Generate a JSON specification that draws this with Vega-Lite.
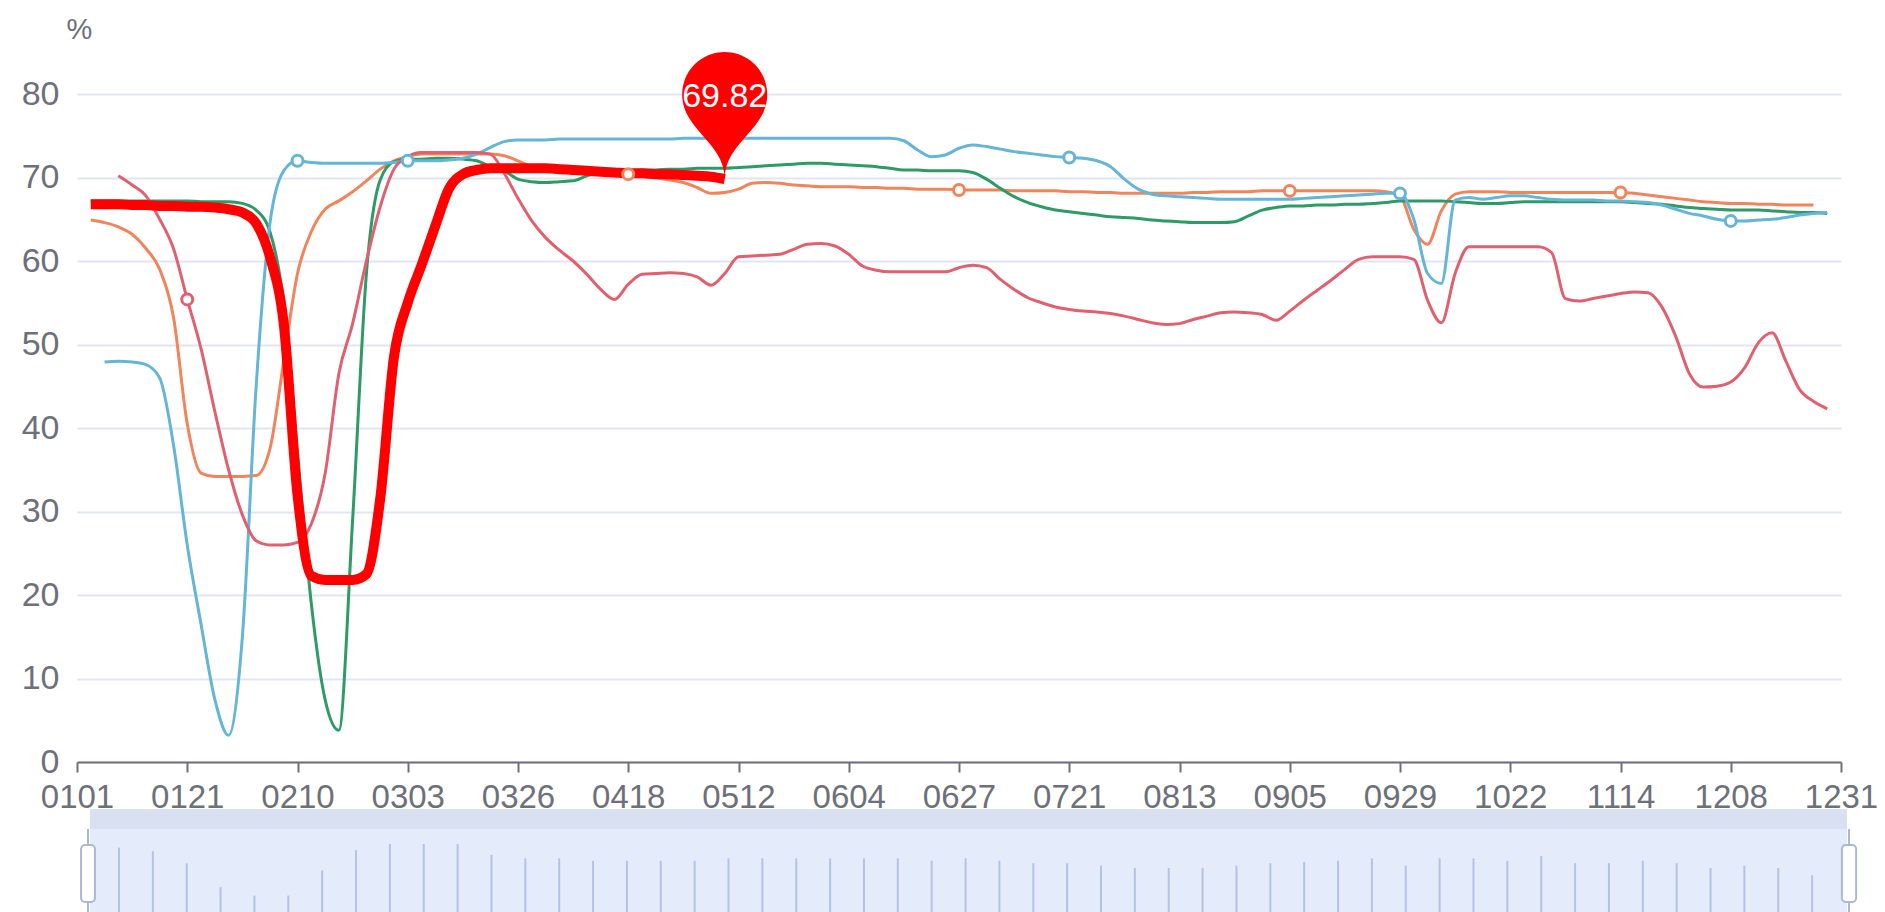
{
"$schema":"https://vega.github.io/schema/vega-lite/v6.json",
"autosize":{"type":"pad"},
"padding":{"left":21,"top":15,"right":0,"bottom":0},
"background":"white",
"config":{"view":{"stroke":null},"font":"Liberation Sans"},
"bounds":"flush",
"spacing":47,
"datasets":{
"main":[
{"d":"0101"},
{"d":"0104","o":64.9,"g":67.2,"r":66.8},
{"d":"0106","b":47.9,"o":64.6,"g":67.2,"r":66.8},
{"d":"0109","b":48,"o":64.1,"g":67.2,"p":70.2,"r":66.8},
{"d":"0111","b":47.9,"o":63.2,"g":67.2,"p":69.1,"r":66.7},
{"d":"0114","b":47.6,"o":61.5,"g":67.2,"p":67.8,"r":66.7},
{"d":"0116","b":46,"o":59,"g":67.2,"p":65,"r":66.6},
{"d":"0119","b":38,"o":53.3,"g":67.2,"p":61.5,"r":66.6},
{"d":"0121","b":26,"o":40.5,"g":67.2,"p":55.4,"r":66.5},
{"d":"0124","b":16.5,"o":34.6,"g":67.1,"p":49.5,"r":66.5},
{"d":"0126","b":7.5,"o":34.2,"g":67.1,"p":42,"r":66.4},
{"d":"0129","b":3.2,"o":34.2,"g":67.1,"p":35,"r":66.2},
{"d":"0131","b":15,"o":34.2,"g":66.9,"p":29.6,"r":65.8},
{"d":"0203","b":45,"o":34.3,"g":66.1,"p":26.5,"r":64.5},
{"d":"0205","b":64.5,"o":37.5,"g":63.5,"p":26,"r":60.5},
{"d":"0208","b":70.8,"o":48,"g":55,"p":26,"r":52.5},
{"d":"0210","b":72,"o":58.5,"g":37,"p":26.3,"r":32},
{"d":"0213","b":71.8,"o":63.5,"g":19,"p":28.5,"r":22.3},
{"d":"0215","b":71.7,"o":66.2,"g":7.5,"p":34.5,"r":21.8},
{"d":"0218","b":71.7,"o":67.2,"g":3.8,"p":46.5,"r":21.8},
{"d":"0221","b":71.7,"o":68.3,"g":29,"p":52.5,"r":21.8},
{"d":"0223","b":71.7,"o":69.6,"g":58.5,"p":60,"r":22.5},
{"d":"0226","b":71.7,"o":71,"g":69.7,"p":66.5,"r":31.5},
{"d":"0228","b":71.8,"o":72,"g":71.9,"p":71,"r":48.5},
{"d":"0303","b":72,"o":72.5,"g":72.2,"p":72.5,"r":55},
{"d":"0306","b":72,"o":72.8,"g":72.2,"p":73,"r":59.5},
{"d":"0309","b":72,"o":72.8,"g":72.3,"p":73,"r":64.2},
{"d":"0312","b":72.1,"o":72.8,"g":72.3,"p":73,"r":68.7},
{"d":"0315","b":72.3,"o":72.8,"g":72.2,"p":73,"r":70.4},
{"d":"0317","b":72.8,"o":72.8,"g":72,"p":73,"r":70.9},
{"d":"0320","b":73.6,"o":72.8,"g":71.3,"p":72.8,"r":71.1},
{"d":"0323","b":74.3,"o":72.6,"g":70.8,"p":70.5,"r":71.1},
{"d":"0326","b":74.5,"o":72,"g":69.8,"p":67.5,"r":71.1},
{"d":"0329","b":74.5,"o":71.3,"g":69.5,"p":64.8,"r":71.1},
{"d":"0401","b":74.5,"o":70.9,"g":69.4,"p":62.8,"r":71.1},
{"d":"0404","b":74.6,"o":70.7,"g":69.5,"p":61.3,"r":71},
{"d":"0407","b":74.6,"o":70.6,"g":69.6,"p":60,"r":70.9},
{"d":"0409","b":74.6,"o":70.5,"g":70.2,"p":58.4,"r":70.8},
{"d":"0412","b":74.6,"o":70.5,"g":70.6,"p":56.6,"r":70.7},
{"d":"0415","b":74.6,"o":70.5,"g":70.7,"p":55.4,"r":70.6},
{"d":"0418","b":74.6,"o":70.4,"g":70.8,"p":57.2,"r":70.5},
{"d":"0421","b":74.6,"o":70.3,"g":70.9,"p":58.4,"r":70.5},
{"d":"0424","b":74.6,"o":70,"g":70.9,"p":58.5,"r":70.4},
{"d":"0427","b":74.6,"o":69.7,"g":71,"p":58.6,"r":70.4},
{"d":"0430","b":74.7,"o":69.4,"g":71,"p":58.5,"r":70.3},
{"d":"0503","b":74.7,"o":68.8,"g":71.1,"p":58.1,"r":70.2},
{"d":"0506","b":74.7,"o":68.1,"g":71.1,"p":57.1,"r":70.1},
{"d":"0509","b":74.7,"o":68.2,"g":71.1,"p":58.5,"r":69.82},
{"d":"0512","b":74.7,"o":68.6,"g":71.2,"p":60.5},
{"d":"0515","b":74.7,"o":69.3,"g":71.3,"p":60.6},
{"d":"0518","b":74.7,"o":69.4,"g":71.4,"p":60.7},
{"d":"0521","b":74.7,"o":69.3,"g":71.5,"p":60.8},
{"d":"0524","b":74.7,"o":69.1,"g":71.6,"p":61.4},
{"d":"0526","b":74.7,"o":69,"g":71.7,"p":62},
{"d":"0529","b":74.7,"o":68.9,"g":71.7,"p":62.1},
{"d":"0601","b":74.7,"o":68.9,"g":71.6,"p":61.8},
{"d":"0604","b":74.7,"o":68.9,"g":71.5,"p":60.8},
{"d":"0607","b":74.7,"o":68.8,"g":71.4,"p":59.4},
{"d":"0610","b":74.7,"o":68.8,"g":71.3,"p":58.9},
{"d":"0613","b":74.7,"o":68.7,"g":71.1,"p":58.7},
{"d":"0616","b":74.4,"o":68.7,"g":70.9,"p":58.7},
{"d":"0618","b":73.3,"o":68.6,"g":70.9,"p":58.7},
{"d":"0621","b":72.5,"o":68.6,"g":70.8,"p":58.7},
{"d":"0624","b":72.7,"o":68.6,"g":70.8,"p":58.7},
{"d":"0627","b":73.5,"o":68.5,"g":70.8,"p":59.2},
{"d":"0630","b":73.9,"o":68.5,"g":70.6,"p":59.5},
{"d":"0703","b":73.7,"o":68.5,"g":69.8,"p":59.2},
{"d":"0706","b":73.4,"o":68.5,"g":68.7,"p":57.8},
{"d":"0709","b":73.1,"o":68.4,"g":67.7,"p":56.6},
{"d":"0712","b":72.9,"o":68.4,"g":67,"p":55.6},
{"d":"0715","b":72.7,"o":68.4,"g":66.5,"p":55},
{"d":"0718","b":72.5,"o":68.4,"g":66.1,"p":54.5},
{"d":"0721","b":72.4,"o":68.3,"g":65.9,"p":54.2},
{"d":"0724","b":72.3,"o":68.3,"g":65.7,"p":54},
{"d":"0727","b":72,"o":68.2,"g":65.5,"p":53.9},
{"d":"0730","b":71.3,"o":68.2,"g":65.3,"p":53.7},
{"d":"0802","b":69.8,"o":68.1,"g":65.2,"p":53.4},
{"d":"0804","b":68.6,"o":68.1,"g":65.1,"p":53},
{"d":"0807","b":68,"o":68.1,"g":64.9,"p":52.6},
{"d":"0810","b":67.8,"o":68.1,"g":64.8,"p":52.4},
{"d":"0813","b":67.7,"o":68.1,"g":64.7,"p":52.5},
{"d":"0816","b":67.6,"o":68.2,"g":64.6,"p":53},
{"d":"0819","b":67.5,"o":68.2,"g":64.6,"p":53.4},
{"d":"0822","b":67.4,"o":68.3,"g":64.6,"p":53.8},
{"d":"0825","b":67.4,"o":68.3,"g":64.7,"p":53.9},
{"d":"0827","b":67.4,"o":68.3,"g":65.4,"p":53.8},
{"d":"0830","b":67.4,"o":68.4,"g":66.1,"p":53.6},
{"d":"0902","b":67.4,"o":68.4,"g":66.4,"p":52.9},
{"d":"0905","b":67.4,"o":68.4,"g":66.6,"p":54},
{"d":"0908","b":67.5,"o":68.4,"g":66.6,"p":55.3},
{"d":"0911","b":67.6,"o":68.4,"g":66.7,"p":56.5},
{"d":"0914","b":67.7,"o":68.4,"g":66.7,"p":57.7},
{"d":"0917","b":67.8,"o":68.4,"g":66.8,"p":59},
{"d":"0920","b":67.9,"o":68.4,"g":66.8,"p":60.2},
{"d":"0923","b":68,"o":68.4,"g":66.9,"p":60.5},
{"d":"0926","b":68.1,"o":68.3,"g":67,"p":60.5},
{"d":"0929","b":68.1,"o":67.8,"g":67.2,"p":60.5},
{"d":"1002","b":65,"o":63.8,"g":67.2,"p":60.2},
{"d":"1005","b":58.5,"o":62,"g":67.2,"p":55.3},
{"d":"1008","b":57.3,"o":66,"g":67.2,"p":52.6},
{"d":"1011","b":67.3,"o":68,"g":67.1,"p":58.5},
{"d":"1013","b":67.6,"o":68.3,"g":67,"p":61.7},
{"d":"1016","b":67.4,"o":68.3,"g":66.9,"p":61.7},
{"d":"1019","b":67.6,"o":68.3,"g":66.9,"p":61.7},
{"d":"1022","b":67.8,"o":68.2,"g":67,"p":61.7},
{"d":"1025","b":67.8,"o":68.2,"g":67.1,"p":61.7},
{"d":"1028","b":67.6,"o":68.2,"g":67.1,"p":61.7},
{"d":"1031","b":67.4,"o":68.2,"g":67.1,"p":61},
{"d":"1103","b":67.3,"o":68.2,"g":67.1,"p":55.5},
{"d":"1105","b":67.3,"o":68.2,"g":67.1,"p":55.2},
{"d":"1108","b":67.3,"o":68.2,"g":67.1,"p":55.5},
{"d":"1111","b":67.2,"o":68.2,"g":67.1,"p":55.8},
{"d":"1114","b":67.2,"o":68.2,"g":67.1,"p":56.1},
{"d":"1117","b":67.1,"o":68.1,"g":67,"p":56.3},
{"d":"1120","b":67,"o":67.9,"g":66.9,"p":56.2},
{"d":"1123","b":66.7,"o":67.7,"g":66.8,"p":54.5},
{"d":"1126","b":66.2,"o":67.5,"g":66.6,"p":51},
{"d":"1129","b":65.7,"o":67.3,"g":66.4,"p":46.5},
{"d":"1202","b":65.4,"o":67.1,"g":66.3,"p":44.9},
{"d":"1205","b":65,"o":67,"g":66.2,"p":45},
{"d":"1208","b":64.8,"o":66.9,"g":66.1,"p":45.5},
{"d":"1211","b":64.8,"o":66.9,"g":66.1,"p":47.2},
{"d":"1214","b":64.9,"o":66.8,"g":66.1,"p":50.2},
{"d":"1217","b":65,"o":66.8,"g":66,"p":51.4},
{"d":"1220","b":65.2,"o":66.7,"g":65.9,"p":48},
{"d":"1222","b":65.5,"o":66.7,"g":65.8,"p":44.6},
{"d":"1225","b":65.7,"o":66.7,"g":65.8,"p":43.2},
{"d":"1228","b":65.8,"g":65.7,"p":42.3},
{"d":"1231"}
],
"shadow":[
{"i":1,"v":64.9},{"i":2,"v":61.6},{"i":3,"v":50.7},{"i":4,"v":28.9},{"i":5,"v":21.3},{"i":6,"v":21.3},{"i":7,"v":44.2},{"i":8,"v":62.7},{"i":9,"v":68.2},{"i":10,"v":68.2},
{"i":11,"v":68.2},{"i":12,"v":58.4},{"i":13,"v":55.1},{"i":14,"v":55.1},{"i":15,"v":52.9},{"i":16,"v":52.9},{"i":17,"v":52.9},{"i":18,"v":52.9},{"i":19,"v":55.1},{"i":20,"v":55.1},
{"i":21,"v":55.1},{"i":22,"v":55.1},{"i":23,"v":55.1},{"i":24,"v":55.1},{"i":25,"v":52.9},{"i":26,"v":55.1},{"i":27,"v":52.9},{"i":28,"v":50.7},{"i":29,"v":50.7},{"i":30,"v":48.5},
{"i":31,"v":46.4},{"i":32,"v":46.4},{"i":33,"v":46.4},{"i":34,"v":48.5},{"i":35,"v":50.7},{"i":36,"v":51.8},{"i":37,"v":52.9},{"i":38,"v":55.1},{"i":39,"v":48.5},{"i":40,"v":55.1},
{"i":41,"v":55.1},{"i":42,"v":52.9},{"i":43,"v":57.3},{"i":44,"v":50.7},{"i":45,"v":50.7},{"i":46,"v":52.9},{"i":47,"v":50.7},{"i":48,"v":46.4},{"i":49,"v":48.5},{"i":50,"v":46.4},
{"i":51,"v":39.8}
]
},
"vconcat":[
{
"width":1764,"height":668,
"data":{"name":"main"},
"transform":[{"fold":["b","o","g","p","r"],"as":["s","v"]},{"filter":"isValid(datum.v)"}],
"encoding":{
"x":{"field":"d","type":"ordinal","sort":"ascending",
 "scale":{"type":"point","padding":0,"domain":["0101","0104","0106","0109","0111","0114","0116","0119","0121","0124","0126","0129","0131","0203","0205","0208","0210","0213","0215","0218","0221","0223","0226","0228","0303","0306","0309","0312","0315","0317","0320","0323","0326","0329","0401","0404","0407","0409","0412","0415","0418","0421","0424","0427","0430","0503","0506","0509","0512","0515","0518","0521","0524","0526","0529","0601","0604","0607","0610","0613","0616","0618","0621","0624","0627","0630","0703","0706","0709","0712","0715","0718","0721","0724","0727","0730","0802","0804","0807","0810","0813","0816","0819","0822","0825","0827","0830","0902","0905","0908","0911","0914","0917","0920","0923","0926","0929","1002","1005","1008","1011","1013","1016","1019","1022","1025","1028","1031","1103","1105","1108","1111","1114","1117","1120","1123","1126","1129","1202","1205","1208","1211","1214","1217","1220","1222","1225","1228","1231"]},
 "axis":{"values":["0101","0121","0210","0303","0326","0418","0512","0604","0627","0721","0813","0905","0929","1022","1114","1208","1231"],
  "title":null,"labelAngle":0,"labelFontSize":33,"labelColor":"#6e7079","labelFont":"Liberation Sans","tickColor":"#6e7079","domainColor":"#6e7079","domainWidth":2,"tickWidth":2,"tickSize":10,"labelPadding":9,"grid":false,"labelOverlap":false,"labelFlush":false}},
"y":{"field":"v","type":"quantitative","scale":{"domain":[0,80],"nice":false},
 "axis":{"values":[0,10,20,30,40,50,60,70,80],"title":"%","titleAngle":0,"titleX":2,"titleY":-65,"titleAlign":"center","titleBaseline":"middle","titleFontSize":29,"titleFontWeight":"normal","titleColor":"#6e7079","titleFont":"Liberation Sans","labelFontSize":34,"labelColor":"#6e7079","labelFont":"Liberation Sans","domain":false,"ticks":false,"labelPadding":18,"gridColor":"#e0e6f1","gridWidth":2}}
},
"layer":[
{"transform":[{"filter":"datum.s != 'r'"}],
 "mark":{"type":"line","interpolate":"monotone","strokeWidth":3},
 "encoding":{"color":{"field":"s","type":"nominal","scale":{"domain":["b","o","g","p"],"range":["#64b5d6","#f0845a","#2e9a66","#e1606f"]},"legend":null}}},
{"transform":[{"filter":"datum.s == 'r'"}],
 "mark":{"type":"line","interpolate":"monotone","strokeWidth":10,"color":"#ff0000"}},
{"transform":[{"filter":"(datum.s=='b' && indexof(['0210','0303','0721','0929','1208'], datum.d) >= 0) || (datum.s=='o' && indexof(['0418','0627','0905','1114'], datum.d) >= 0) || (datum.s=='p' && datum.d=='0121')"}],
 "mark":{"type":"point","shape":"circle","size":120,"filled":true,"fill":"white","strokeWidth":3,"opacity":1},
 "encoding":{"stroke":{"field":"s","type":"nominal","scale":{"domain":["b","o","g","p"],"range":["#64b5d6","#f0845a","#2e9a66","#e1606f"]},"legend":null}}},
{"transform":[{"filter":"datum.s=='r' && datum.d=='0509'"}],
 "mark":{"type":"point","shape":"M-0.3046,-0.5255A0.335,0.335,0,1,1,0.3046,-0.5255C0.2209,-0.3427,0,-0.2345,0,0C0,-0.2345,-0.2209,-0.3427,-0.3046,-0.5255Z","size":64516,"filled":true,"color":"#ff0000","opacity":1,"strokeWidth":0}},
{"transform":[{"filter":"datum.s=='r' && datum.d=='0509'"}],
 "mark":{"type":"text","dy":-82,"fontSize":34,"color":"white","font":"Liberation Sans","align":"center","baseline":"middle"},
 "encoding":{"text":{"field":"v","type":"quantitative","format":".2f"}}}
]
},
{
"width":1770,"height":110,
"data":{"name":"shadow"},
"layer":[
{"data":{"values":[{}]},"mark":{"type":"rect","color":"#e4ebfb"},
 "encoding":{"x":{"datum":0.14,"type":"quantitative","scale":{"domain":[-0.24,52.03],"nice":false,"zero":false},"axis":null},"x2":{"datum":52.03},
  "y":{"datum":0,"type":"quantitative","scale":{"domain":[0,100],"nice":false,"zero":false},"axis":null},"y2":{"datum":81.8}}},
{"data":{"values":[{}]},"mark":{"type":"rect","color":"#d9e0f1"},
 "encoding":{"x":{"datum":0.14,"type":"quantitative","scale":{"domain":[-0.24,52.03],"nice":false,"zero":false},"axis":null},"x2":{"datum":52.03},
  "y":{"datum":81.8,"type":"quantitative","scale":{"domain":[0,100],"nice":false,"zero":false},"axis":null},"y2":{"datum":100}}},
{"mark":{"type":"rule","color":"#b3c2e6","strokeWidth":2},
 "encoding":{"x":{"field":"i","type":"quantitative","scale":{"domain":[-0.24,52.03],"nice":false,"zero":false},"axis":null},
  "y":{"field":"v","type":"quantitative","scale":{"domain":[0,100],"nice":false,"zero":false},"axis":null},"y2":{"datum":0}}},
{"data":{"values":[{}]},"mark":{"type":"rule","color":"#acb8d1","strokeWidth":2},
 "encoding":{"x":{"datum":0.085,"type":"quantitative","scale":{"domain":[-0.24,52.03],"nice":false,"zero":false},"axis":null},
  "y":{"datum":0,"type":"quantitative","scale":{"domain":[0,100],"nice":false,"zero":false},"axis":null},"y2":{"datum":81.8}}},
{"data":{"values":[{}]},"mark":{"type":"rule","color":"#acb8d1","strokeWidth":2},
 "encoding":{"x":{"datum":52.09,"type":"quantitative","scale":{"domain":[-0.24,52.03],"nice":false,"zero":false},"axis":null},
  "y":{"datum":0,"type":"quantitative","scale":{"domain":[0,100],"nice":false,"zero":false},"axis":null},"y2":{"datum":81.8}}},
{"data":{"values":[{}]},"mark":{"type":"rect","fill":"white","stroke":"#acb8d1","strokeWidth":2,"cornerRadius":4},
 "encoding":{"x":{"datum":-0.12,"type":"quantitative","scale":{"domain":[-0.24,52.03],"nice":false,"zero":false},"axis":null},"x2":{"datum":0.29},
  "y":{"datum":15.5,"type":"quantitative","scale":{"domain":[0,100],"nice":false,"zero":false},"axis":null},"y2":{"datum":67.3}}},
{"data":{"values":[{}]},"mark":{"type":"rect","fill":"white","stroke":"#acb8d1","strokeWidth":2,"cornerRadius":4},
 "encoding":{"x":{"datum":51.88,"type":"quantitative","scale":{"domain":[-0.24,52.03],"nice":false,"zero":false},"axis":null},"x2":{"datum":52.3},
  "y":{"datum":15.5,"type":"quantitative","scale":{"domain":[0,100],"nice":false,"zero":false},"axis":null},"y2":{"datum":67.3}}}
]
}
]
}
